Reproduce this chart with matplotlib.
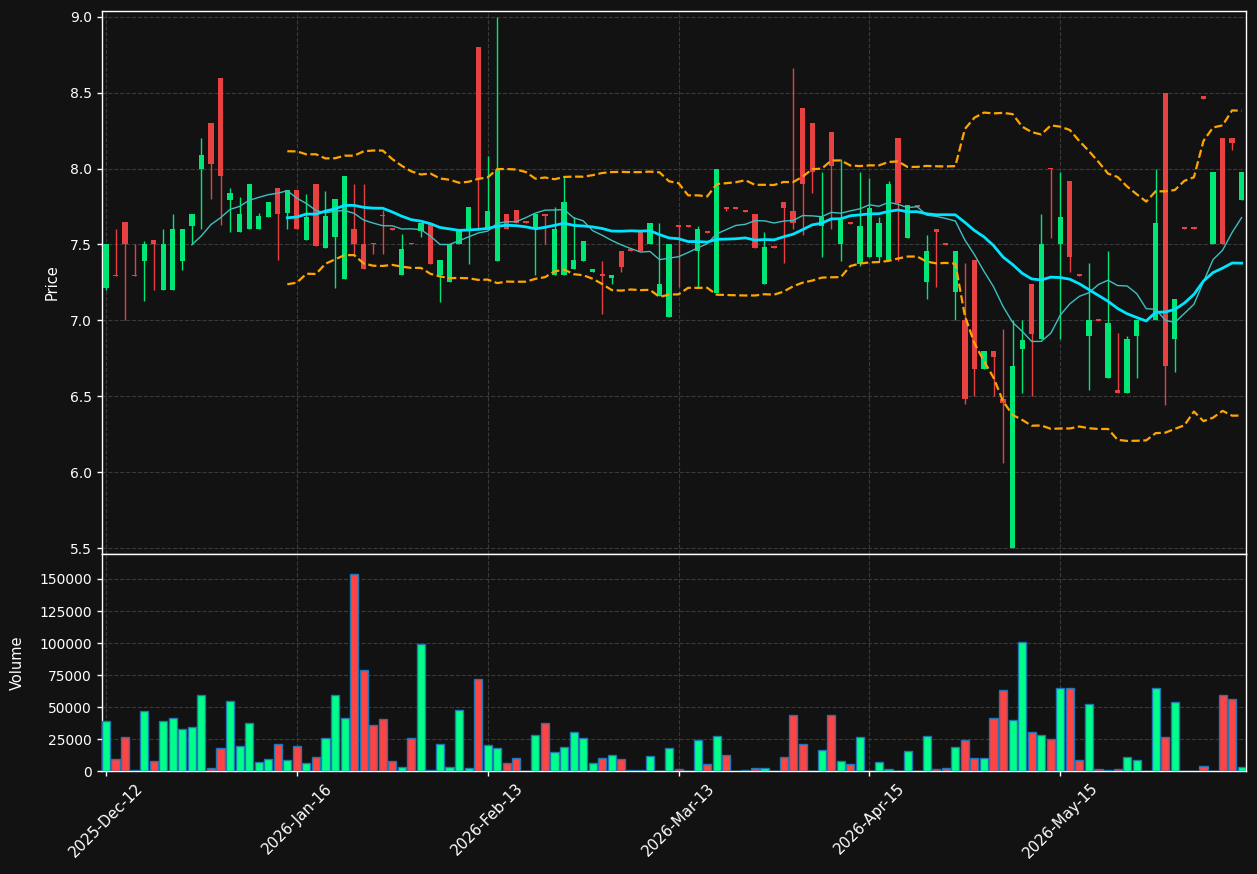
import numpy as np
import pandas as pd
import matplotlib
matplotlib.use("Agg")
import matplotlib.pyplot as plt
from matplotlib.ticker import FuncFormatter, FixedLocator

# ---------------- data ----------------
opens = [7.21, 7.30, 7.65, 7.30, 7.39, 7.53, 7.20, 7.20, 7.39, 7.62,
         8.00, 8.30, 8.60, 7.79, 7.58, 7.60, 7.60, 7.68, 7.87, 7.71,
         7.86, 7.53, 7.90, 7.48, 7.55, 7.27, 7.60, 7.50, 7.512, 7.695,
         7.607, 7.30, 7.512, 7.59, 7.64, 7.30, 7.25, 7.50, 7.60, 8.80,
         7.60, 7.39, 7.70, 7.73, 7.652, 7.60, 7.70, 7.30, 7.30, 7.34,
         7.39, 7.32, 7.307, 7.28, 7.46, 7.467, 7.59, 7.50, 7.16, 7.02,
         7.627, 7.627, 7.46, 7.587, 7.18, 7.747, 7.747, 7.727, 7.70, 7.24,
         7.487, 7.78, 7.72, 8.40, 8.30, 7.62, 8.24, 7.50, 7.647, 7.37,
         7.42, 7.42, 7.39, 8.20, 7.54, 7.757, 7.25, 7.60, 7.507, 7.19,
         7.00, 7.40, 6.68, 6.80, 6.48, 5.50, 6.81, 7.24, 6.88, 8.007,
         7.50, 7.92, 7.307, 6.90, 7.007, 6.62, 6.54, 6.52, 6.90, 7.00,
         7.00, 8.50, 6.88, 7.612, 7.612, 8.48, 7.50, 8.20, 8.20, 7.79]
highs = [7.50, 7.60, 7.65, 7.50, 7.52, 7.53, 7.60, 7.70, 7.60, 7.70,
         8.20, 8.30, 8.60, 7.87, 7.81, 7.90, 7.71, 7.78, 7.87, 7.86,
         7.86, 7.83, 7.90, 7.85, 7.80, 7.95, 7.90, 7.90, 7.512, 7.73,
         7.607, 7.57, 7.512, 7.64, 7.64, 7.40, 7.50, 7.59, 7.75, 8.80,
         8.08, 9.00, 7.70, 7.73, 7.652, 7.70, 7.70, 7.75, 7.95, 7.68,
         7.52, 7.34, 7.39, 7.30, 7.46, 7.467, 7.59, 7.64, 7.64, 7.50,
         7.627, 7.627, 7.62, 7.587, 8.00, 7.747, 7.747, 7.727, 7.70, 7.58,
         7.487, 7.78, 8.66, 8.40, 8.30, 7.98, 8.24, 8.06, 7.647, 7.98,
         7.94, 7.68, 7.92, 8.20, 7.76, 7.757, 7.56, 7.60, 7.507, 7.46,
         7.38, 7.40, 6.80, 6.80, 6.94, 7.00, 7.00, 7.24, 7.70, 8.007,
         7.98, 7.92, 7.307, 7.38, 7.007, 7.46, 6.92, 6.90, 7.00, 7.00,
         8.00, 8.50, 7.14, 7.612, 7.612, 8.48, 7.98, 8.20, 8.20, 7.98]
lows = [7.20, 7.29, 7.00, 7.29, 7.13, 7.20, 7.20, 7.20, 7.33, 7.50,
        7.60, 7.80, 7.63, 7.58, 7.58, 7.60, 7.60, 7.68, 7.40, 7.60,
        7.60, 7.53, 7.49, 7.48, 7.21, 7.27, 7.43, 7.34, 7.44, 7.44,
        7.595, 7.30, 7.50, 7.55, 7.37, 7.12, 7.25, 7.50, 7.37, 7.60,
        7.60, 7.39, 7.60, 7.64, 7.64, 7.30, 7.50, 7.30, 7.30, 7.34,
        7.39, 7.32, 7.04, 7.24, 7.32, 7.455, 7.46, 7.50, 7.16, 7.02,
        7.22, 7.615, 7.22, 7.575, 7.18, 7.72, 7.735, 7.715, 7.48, 7.24,
        7.475, 7.38, 7.60, 7.56, 7.84, 7.42, 7.60, 7.39, 7.635, 7.36,
        7.42, 7.39, 7.39, 7.39, 7.54, 7.745, 7.14, 7.22, 7.495, 7.00,
        6.45, 6.50, 6.68, 6.50, 6.06, 5.50, 6.52, 6.50, 6.88, 7.54,
        6.88, 7.32, 7.295, 6.54, 6.995, 6.62, 6.52, 6.52, 6.62, 7.00,
        7.00, 6.44, 6.66, 7.60, 7.60, 8.46, 7.50, 7.50, 8.12, 7.79]
closes = [7.50, 7.29, 7.50, 7.29, 7.50, 7.50, 7.50, 7.60, 7.60, 7.70,
          8.09, 8.03, 7.95, 7.84, 7.70, 7.90, 7.69, 7.78, 7.70, 7.86,
          7.60, 7.68, 7.49, 7.69, 7.80, 7.95, 7.50, 7.34, 7.50, 7.685,
          7.595, 7.47, 7.50, 7.64, 7.37, 7.40, 7.50, 7.59, 7.75, 7.94,
          7.72, 7.99, 7.60, 7.64, 7.64, 7.70, 7.69, 7.60, 7.78, 7.40,
          7.52, 7.34, 7.295, 7.30, 7.35, 7.455, 7.46, 7.64, 7.24, 7.50,
          7.615, 7.615, 7.60, 7.575, 8.00, 7.735, 7.735, 7.715, 7.48, 7.485,
          7.475, 7.74, 7.64, 7.90, 7.98, 7.68, 8.02, 7.66, 7.635, 7.62,
          7.74, 7.64, 7.90, 7.77, 7.76, 7.745, 7.46, 7.58, 7.495, 7.46,
          6.48, 6.68, 6.80, 6.76, 6.455, 6.70, 6.87, 6.91, 7.50, 7.995,
          7.68, 7.42, 7.295, 7.00, 6.995, 6.98, 6.52, 6.88, 7.00, 7.00,
          7.64, 6.70, 7.14, 7.60, 7.60, 8.46, 7.98, 7.50, 8.17, 7.98]
volumes = [38800, 9100, 26300, 800, 46600, 7800, 38800, 41100, 32500, 34100,
           59100, 2100, 17700, 54400, 19300, 37200, 6800, 9100, 20800, 8300,
           19300, 6000, 10700, 25500, 59100, 41100, 153600, 78600, 35700, 40400,
           7600, 2900, 25500, 99000, 800, 20800, 3400, 47400, 2600, 71600,
           20000, 17700, 6000, 9900, 0, 27900, 37200, 14600, 18500, 30200,
           25500, 6000, 9900, 12200, 9100, 800, 800, 11500, 0, 17700,
           1600, 0, 24000, 5200, 27100, 12200, 0, 800, 2600, 2600,
           0, 11200, 43500, 20800, 0, 16100, 43500, 7600, 5200, 26300,
           0, 6800, 1300, 0, 15400, 0, 27100, 1300, 2100, 18500,
           24000, 9900, 9900, 41100, 63000, 39600, 100500, 30200, 27900, 24700,
           64600, 64600, 8300, 52100, 1300, 800, 1300, 10700, 8300, 0,
           64600, 26300, 53600, 0, 0, 3600, 0, 59100, 56000, 2900]
tick_labels = ['2025-Dec-12', '2026-Jan-16', '2026-Feb-13',
               '2026-Mar-13', '2026-Apr-15', '2026-May-15']
tick_step = 20

# ---------------- styling ----------------
BG = '#121212'
UP = '#00e676'
DOWN = '#e84142'
VUP = '#00ff88'
VDOWN = '#ff4444'
GRID = '#3a3a3a'
FS = 10

df = pd.DataFrame({'o': opens, 'h': highs, 'l': lows, 'c': closes, 'v': volumes})
n = len(df)
x = np.arange(n)
up = df['c'] >= df['o']
ma10 = df['c'].rolling(10).mean()
ma20 = df['c'].rolling(20).mean()
sd20 = df['c'].rolling(20).std(ddof=0)
bb_up = ma20 + 2 * sd20
bb_lo = ma20 - 2 * sd20

fig = plt.figure(figsize=(12.57, 8.74), dpi=100, facecolor=BG)
ax1 = fig.add_axes([0.0809, 0.3667, 0.9103, 0.6205], facecolor=BG)
ax2 = fig.add_axes([0.0809, 0.1178, 0.9103, 0.2483], facecolor=BG, sharex=ax1)

ccol = np.where(up, UP, DOWN)
vcol = np.where(up, VUP, VDOWN)

# wicks
ax1.vlines(x, df['l'], df['h'], colors=ccol, linewidth=1, zorder=2)
# bodies
body_bot = np.minimum(df['o'], df['c'])
body_h = np.abs(df['c'] - df['o'])
ax1.bar(x, body_h, bottom=body_bot, width=0.55, color=ccol, linewidth=0, zorder=3)

# indicators
ax1.plot(x, ma10, color='#3fbfbf', linewidth=1.0, zorder=4)
ax1.plot(x, ma20, color='#00e5ff', linewidth=2.0, zorder=4)
ax1.plot(x, bb_up, color='#ffa500', linewidth=1.6, linestyle='--', zorder=4)
ax1.plot(x, bb_lo, color='#ffa500', linewidth=1.6, linestyle='--', zorder=4)

# volume
ax2.bar(x, df['v'], width=0.85, color=vcol, edgecolor='#1f77b4', linewidth=1.0, zorder=3)

ax1.set_xlim(-0.45, n - 0.55)
ax1.set_ylim(5.464, 9.037)
ax1.set_yticks(np.arange(5.5, 9.01, 0.5))
ax1.yaxis.set_major_formatter(FuncFormatter(lambda v, p: f'{v:.1f}'))
ax2.set_ylim(0, 169500)
ax2.set_yticks(np.arange(0, 150001, 25000))
ax2.yaxis.set_major_formatter(FuncFormatter(lambda v, p: f'{int(v)}'))

ticks = list(range(0, n, tick_step))[:len(tick_labels)]
ax2.xaxis.set_major_locator(FixedLocator(ticks))
ax2.set_xticklabels(tick_labels, rotation=45, ha='center', fontsize=10.8)

for ax in (ax1, ax2):
    ax.grid(True, color=GRID, linestyle='--', linewidth=0.8, zorder=0)
    ax.set_axisbelow(True)
    for s in ax.spines.values():
        s.set_color('white')
        s.set_linewidth(1.0)
    ax.tick_params(colors='white', length=3.5, width=1)
    ax.tick_params(axis='y', labelsize=FS)
ax2.tick_params(axis='x', labelsize=10.8)
ax1.tick_params(axis='x', bottom=False, labelbottom=False)

ax1.set_ylabel('Price', color='white', fontsize=FS + 0.5)
ax2.set_ylabel('Volume', color='white', fontsize=FS + 0.5)
ax1.yaxis.set_label_coords(-0.0365, 0.5)
ax2.yaxis.set_label_coords(-0.0675, 0.5)

fig.savefig('out.png', dpi=100, facecolor=BG)
